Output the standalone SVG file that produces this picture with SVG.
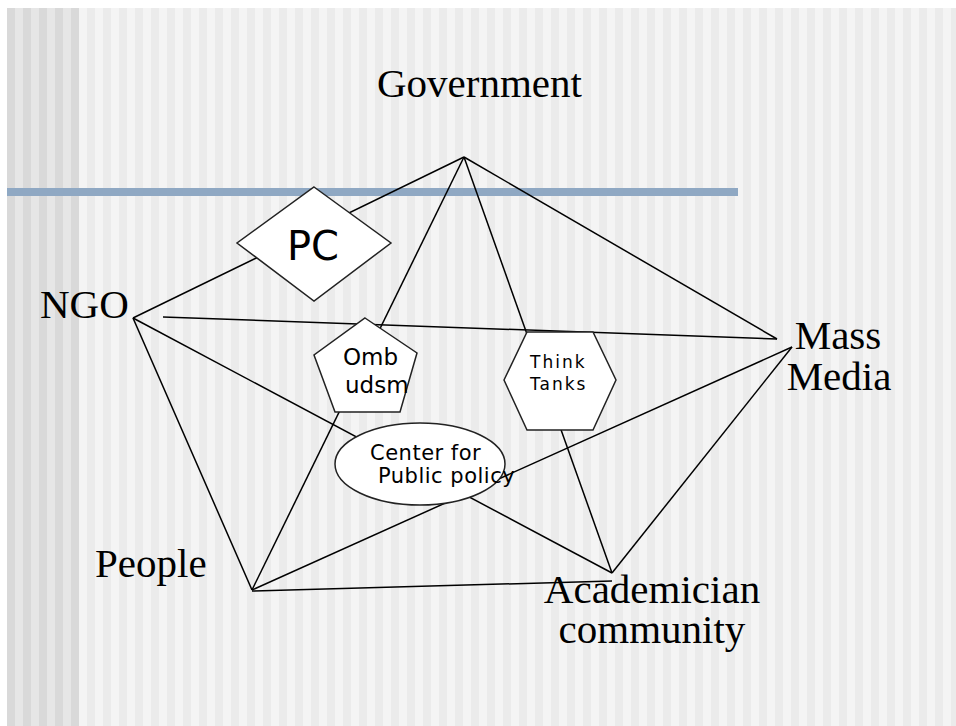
<svg xmlns="http://www.w3.org/2000/svg" width="956" height="726" viewBox="0 0 956 726">
  <defs>
    <!-- striped slide background: darker band on the left, light band for the rest -->
    <pattern id="stripesDark" x="7" y="0" width="16" height="16" patternUnits="userSpaceOnUse">
      <rect x="0" y="0" width="16" height="16" fill="#e6e6e6"/>
      <rect x="0" y="0" width="8" height="16" fill="#d9d9d9"/>
    </pattern>
    <pattern id="stripesLight" x="7" y="0" width="16" height="16" patternUnits="userSpaceOnUse">
      <rect x="0" y="0" width="16" height="16" fill="#f4f4f4"/>
      <rect x="0" y="0" width="8" height="16" fill="#ebebeb"/>
    </pattern>
    <style>
      .edge { stroke: #000; stroke-width: 1.5; fill: none; }
      .shape { fill: #fff; stroke: #222; stroke-width: 1.5; }
      .label { font-family: "Liberation Serif", "Times New Roman", serif; font-size: 41px; fill: #000; }
      .inner { font-family: "DejaVu Sans", Verdana, sans-serif; fill: #000; }
    </style>
  </defs>

  <!-- background -->
  <rect x="0" y="0" width="956" height="726" fill="#fff"/>
  <rect x="7" y="8" width="72" height="718" fill="url(#stripesDark)"/>
  <rect x="79" y="8" width="877" height="718" fill="url(#stripesLight)"/>

  <!-- title rule -->
  <rect x="7" y="188" width="731" height="8" fill="#8fa8c3"/>

  <!-- connectors -->
  <g id="connectors">
    <line class="edge" x1="464" y1="157" x2="133" y2="318"/>
    <line class="edge" x1="464" y1="157" x2="777" y2="339"/>
    <line class="edge" x1="464" y1="157" x2="252" y2="590"/>
    <line class="edge" x1="464" y1="157" x2="612" y2="573"/>
    <line class="edge" x1="163" y1="317" x2="777" y2="339"/>
    <line class="edge" x1="133" y1="318" x2="252" y2="590"/>
    <line class="edge" x1="133" y1="318" x2="612" y2="573"/>
    <line class="edge" x1="792" y1="347" x2="252" y2="590"/>
    <line class="edge" x1="792" y1="347" x2="612" y2="573"/>
    <line class="edge" x1="252" y1="591" x2="612" y2="581"/>
  </g>

  <!-- inner nodes -->
  <g id="node-pc">
    <polygon class="shape" points="314,187 391,243 314,301 237,243"/>
    <text class="inner" x="313" y="260" font-size="40" text-anchor="middle">PC</text>
  </g>

  <g id="node-ombudsman">
    <polygon class="shape" points="365,318 417,353 400,412 335,412 314,355"/>
    <text class="inner" x="343" y="365" font-size="23">Omb</text>
    <text class="inner" x="345" y="393" font-size="23">udsm</text>
  </g>

  <g id="node-think-tanks">
    <polygon class="shape" points="504,380 527,332 593,332 616,380 593,430 527,430"/>
    <text class="inner" x="530" y="368" font-size="17" letter-spacing="2">Think</text>
    <text class="inner" x="530" y="390" font-size="17" letter-spacing="2">Tanks</text>
  </g>

  <g id="node-center">
    <ellipse class="shape" cx="420" cy="464" rx="85" ry="41"/>
    <text class="inner" x="370" y="460" font-size="21" letter-spacing="0.5">Center for</text>
    <text class="inner" x="378" y="483" font-size="21" letter-spacing="0.5">Public policy</text>
  </g>

  <!-- outer actors -->
  <g id="node-government">
    <text class="label" x="377" y="97">Government</text>
  </g>
  <g id="node-ngo">
    <text class="label" x="40" y="318">NGO</text>
  </g>
  <g id="node-mass-media">
    <text class="label" x="838" y="349" text-anchor="middle">Mass</text>
    <text class="label" x="839" y="390" text-anchor="middle">Media</text>
  </g>
  <g id="node-people">
    <text class="label" x="95" y="577">People</text>
  </g>
  <g id="node-academician">
    <text class="label" x="652" y="603" text-anchor="middle">Academician</text>
    <text class="label" x="652" y="643" text-anchor="middle">community</text>
  </g>
</svg>
